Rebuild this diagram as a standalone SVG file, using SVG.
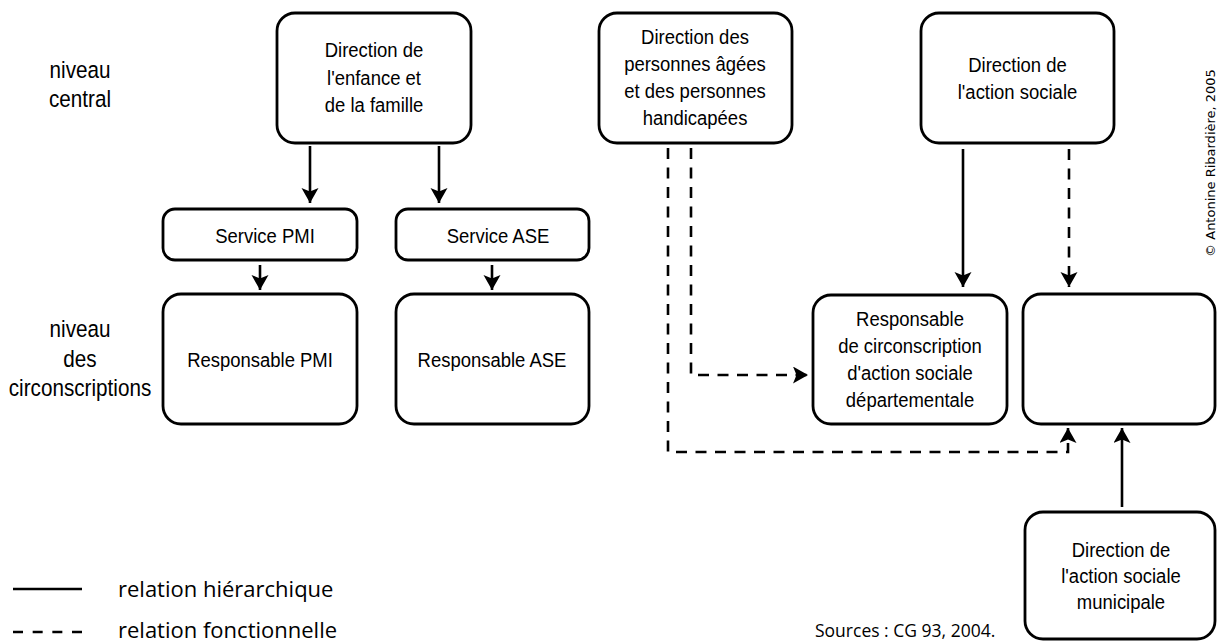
<svg xmlns="http://www.w3.org/2000/svg" width="1218" height="642" viewBox="0 0 1218 642">
<defs>
<style>
.box{fill:#fff;stroke:#000;stroke-width:2.8}
.t{font-family:"Liberation Sans",Arial,sans-serif;font-size:21px;fill:#000;text-anchor:middle}
.lbl{font-family:"Liberation Sans",Arial,sans-serif;font-size:23.5px;fill:#000;text-anchor:middle}
.leg{font-family:"Open Sans","Liberation Sans",sans-serif;font-size:22px;fill:#000}
.solid{fill:none;stroke:#000;stroke-width:2.6}
.dash{fill:none;stroke:#000;stroke-width:2.6;stroke-dasharray:11 8.5}
</style>
<marker id="ah" markerUnits="userSpaceOnUse" markerWidth="18" markerHeight="18" viewBox="0 0 16 18" refX="15" refY="8.5" orient="auto">
<path d="M0,0 L15,8.5 L0,17 L3.5,8.5 Z" fill="#000"/>
</marker>
</defs>
<rect width="1218" height="642" fill="#fff"/>

<g id="labels">
<text class="lbl" transform="translate(80,78) scale(0.88,1)">niveau</text>
<text class="lbl" transform="translate(80,107) scale(0.88,1)">central</text>
<text class="lbl" transform="translate(80,337) scale(0.88,1)">niveau</text>
<text class="lbl" transform="translate(80,367) scale(0.88,1)">des</text>
<text class="lbl" transform="translate(80,396) scale(0.88,1)">circonscriptions</text>
</g>

<g id="connectors">
<path class="solid" d="M310,146 V203" marker-end="url(#ah)"/>
<path class="solid" d="M439,146 V203" marker-end="url(#ah)"/>
<path class="solid" d="M260,265 V290" marker-end="url(#ah)"/>
<path class="solid" d="M492,265 V290" marker-end="url(#ah)"/>
<path class="solid" d="M963,149 V287" marker-end="url(#ah)"/>
<path class="dash" d="M1069,149 V287" marker-end="url(#ah)"/>
<path class="dash" d="M691,148 V375 H808" marker-end="url(#ah)"/>
<path class="dash" d="M668,148 V452 H1068 V428" marker-end="url(#ah)"/>
<path class="solid" d="M1122,507 V428" marker-end="url(#ah)"/>
</g>

<g id="n-enfance">
<rect class="box" x="277" y="13" width="194" height="130" rx="18"/>
<text class="t" transform="translate(374,57) scale(0.88,1)">Direction de</text>
<text class="t" transform="translate(374,85) scale(0.88,1)">l'enfance et</text>
<text class="t" transform="translate(374,112) scale(0.88,1)">de la famille</text>
</g>
<g id="n-personnes">
<rect class="box" x="599" y="13" width="193" height="130" rx="18"/>
<text class="t" transform="translate(695,44) scale(0.88,1)">Direction des</text>
<text class="t" transform="translate(695,71) scale(0.88,1)">personnes âgées</text>
<text class="t" transform="translate(695,98) scale(0.88,1)">et des personnes</text>
<text class="t" transform="translate(695,125) scale(0.88,1)">handicapées</text>
</g>
<g id="n-action">
<rect class="box" x="921" y="13" width="193" height="130" rx="18"/>
<text class="t" transform="translate(1017.5,72) scale(0.88,1)">Direction de</text>
<text class="t" transform="translate(1017.5,99) scale(0.88,1)">l'action sociale</text>
</g>
<g id="n-service-pmi">
<rect class="box" x="163" y="209" width="194" height="51" rx="12"/>
<text class="t" transform="translate(265,243) scale(0.88,1)">Service PMI</text>
</g>
<g id="n-service-ase">
<rect class="box" x="396" y="209" width="193" height="51" rx="12"/>
<text class="t" transform="translate(498,243) scale(0.88,1)">Service ASE</text>
</g>
<g id="n-resp-pmi">
<rect class="box" x="163" y="294" width="194" height="130" rx="18"/>
<text class="t" transform="translate(260,367) scale(0.88,1)">Responsable PMI</text>
</g>
<g id="n-resp-ase">
<rect class="box" x="396" y="294" width="193" height="130" rx="18"/>
<text class="t" transform="translate(492,367) scale(0.88,1)">Responsable ASE</text>
</g>
<g id="n-resp-circ">
<rect class="box" x="813" y="295" width="194" height="129" rx="18"/>
<text class="t" transform="translate(910,326) scale(0.88,1)">Responsable</text>
<text class="t" transform="translate(910,353) scale(0.88,1)">de circonscription</text>
<text class="t" transform="translate(910,380) scale(0.88,1)">d'action sociale</text>
<text class="t" transform="translate(910,407) scale(0.88,1)">départementale</text>
</g>
<g id="n-empty">
<rect class="box" x="1023" y="294" width="192" height="130" rx="18"/>
</g>
<g id="n-municipal">
<rect class="box" x="1025" y="512" width="190" height="127" rx="18"/>
<text class="t" transform="translate(1121,557) scale(0.88,1)">Direction de</text>
<text class="t" transform="translate(1121,583) scale(0.88,1)">l'action sociale</text>
<text class="t" transform="translate(1121,609) scale(0.88,1)">municipale</text>
</g>

<g id="legend">
<line class="solid" x1="13" y1="589" x2="82" y2="589"/>
<line x1="13" y1="632" x2="82" y2="632" stroke="#000" stroke-width="2.6" stroke-dasharray="10 9.67"/>
<text class="leg" x="118" y="597">relation hiérarchique</text>
<text class="leg" x="118" y="638">relation fonctionnelle</text>
</g>
<text class="leg" x="815" y="637" style="font-size:17.5px">Sources : CG 93, 2004.</text>
<text x="0" y="0" transform="translate(1215,163) rotate(-90)" style="font-family:'DejaVu Sans',sans-serif;font-size:13px;text-anchor:middle" fill="#000">© Antonine Ribardière, 2005</text>
</svg>
